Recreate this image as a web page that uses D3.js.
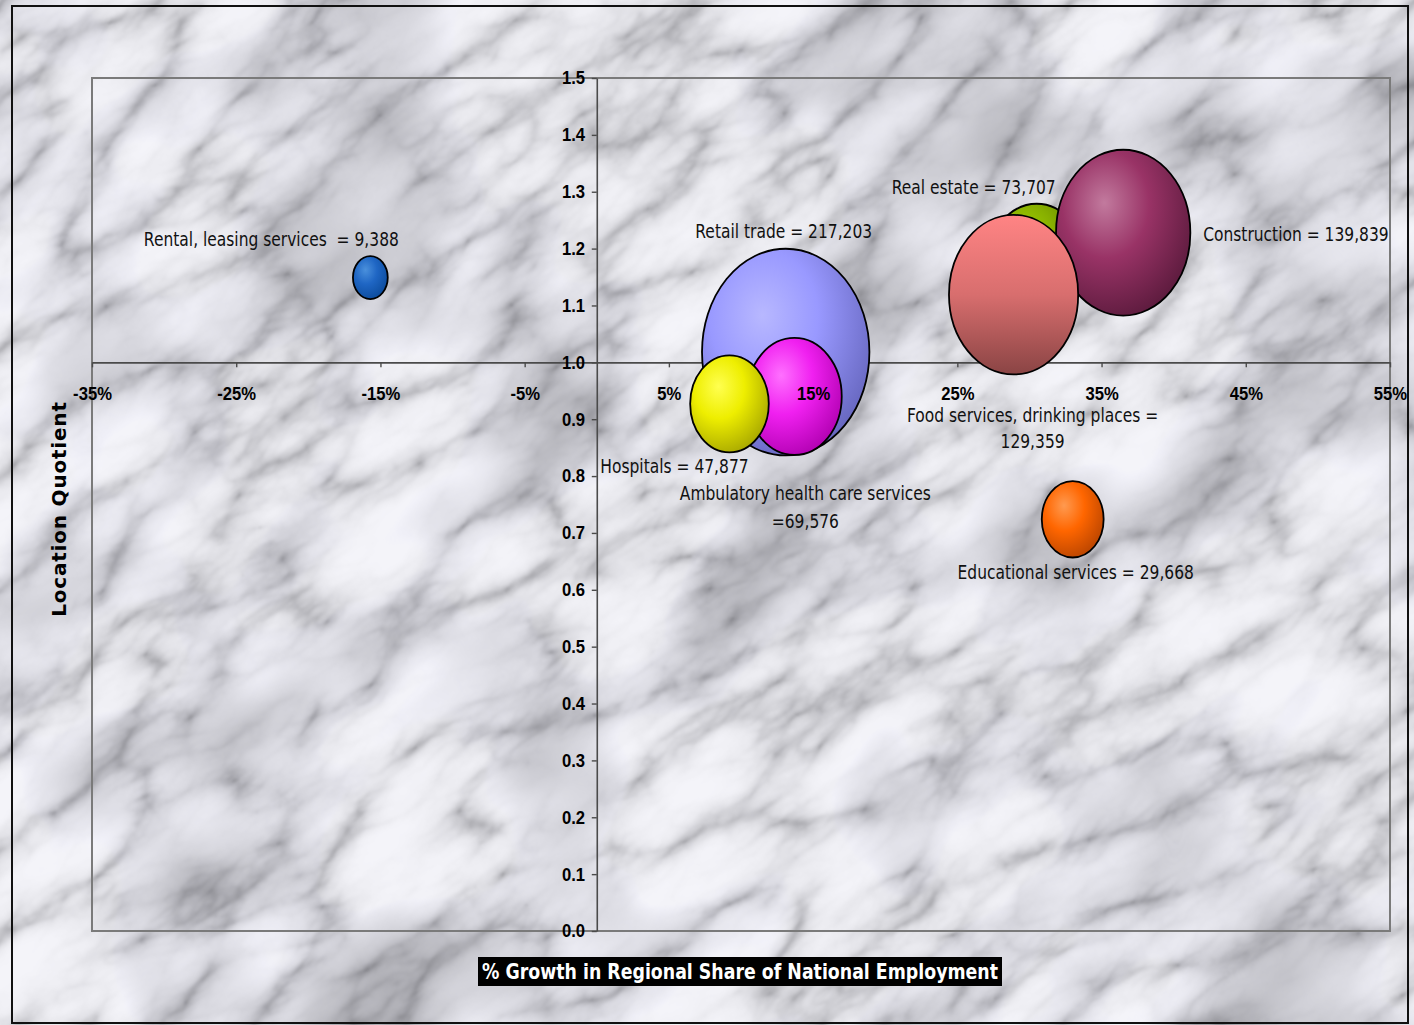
<!DOCTYPE html>
<html>
<head>
<meta charset="utf-8">
<script src="https://cdn.jsdelivr.net/npm/d3@7/dist/d3.min.js"></script>
<style>
  html, body { margin: 0; padding: 0; background: #e2e2e6; }
  svg { display: block; }
</style>
</head>
<body>
<svg id="chart" width="1414" height="1025"></svg>
<script>
// ---- data ----
const industries = [
  "Rental, leasing services",
  "Retail trade",
  "Real estate",
  "Construction",
  "Food services, drinking places",
  "Ambulatory health care services",
  "Hospitals",
  "Educational services"
];
// % growth in regional share of national employment
const growth = [-15.7, 13.1, 30.5, 36.5, 28.9, 13.7, 9.2, 33.0];
// location quotient
const locationQuotient = [1.149, 1.018, 1.173, 1.228, 1.119, 0.940, 0.927, 0.724];
// employment (bubble size)
const employment = [9388, 217203, 73707, 139839, 129359, 69576, 47877, 29668];
// label text templates, {v} is the formatted employment
const labelTemplates = [
  ["Rental, leasing services  = {v}"],
  ["Retail trade = {v}"],
  ["Real estate = {v}"],
  ["Construction = {v}"],
  ["Food services, drinking places =", "{v}"],
  ["Ambulatory health care services", "={v}"],
  ["Hospitals = {v}"],
  ["Educational services = {v}"]
];
const xTicks = [-35, -25, -15, -5, 5, 15, 25, 35, 45, 55];
const yTicks = [0, 0.1, 0.2, 0.3, 0.4, 0.5, 0.6, 0.7, 0.8, 0.9, 1.0, 1.1, 1.2, 1.3, 1.4, 1.5];

// ---- styling ----
const fills = [
  {type: "radial", stops: ["#4a90dc", "#1f66c4", "#0b4a9a"]},
  {type: "radial", stops: ["#b8b8ff", "#9999ff", "#6565bd"]},
  {type: "radial", stops: ["#a8d600", "#88b000", "#587400"]},
  {type: "radial", stops: ["#c27a9e", "#993366", "#5a1a3c"]},
  {type: "linear", stops: ["#ff8484", "#d86e6e", "#8a4444"]},
  {type: "radial", stops: ["#ff70ff", "#f020f0", "#b000b0"]},
  {type: "radial", stops: ["#ffff50", "#eeee00", "#a6a600"]},
  {type: "radial", stops: ["#ff9a50", "#ff6600", "#b84400"]}
];
// label placement relative to each bubble centre (pixels)
const labelLayout = [
  {dx: -99, dy: -32, anchor: "middle"},
  {dx: -2, dy: -114, anchor: "middle"},
  {dx: -63, dy: -70, anchor: "middle"},
  {dx: 80, dy: 8, anchor: "start"},
  {dx: 19, dy: 127, anchor: "middle", lh: 26},
  {dx: 11, dy: 104, anchor: "middle", lh: 28},
  {dx: -55, dy: 69, anchor: "middle"},
  {dx: 3, dy: 60, anchor: "middle"}
];
// stacking order of the bubbles (first drawn at the back)
const drawOrder = [0, 1, 2, 3, 4, 5, 6, 7];

const W = 1414, H = 1025;
const plot = {left: 92, right: 1390, top: 78, bottom: 931};
const squeeze = 0.775;  // horizontal text compression
const aspect = 1.235;   // bubble vertical/horizontal ratio

const svg = d3.select("#chart");
const defs = svg.append("defs");

// marble texture: soft clouds plus thin diagonal veins
const f = defs.append("filter").attr("id", "marble")
  .attr("filterUnits", "userSpaceOnUse")
  .attr("x", -1000).attr("y", -1000).attr("width", 3500).attr("height", 3500)
  .attr("color-interpolation-filters", "sRGB");
f.append("feTurbulence").attr("type", "turbulence")
  .attr("baseFrequency", "0.006 0.013").attr("numOctaves", 5).attr("seed", 11)
  .attr("result", "veins");
f.append("feTurbulence").attr("type", "fractalNoise")
  .attr("baseFrequency", "0.004 0.006").attr("numOctaves", 3).attr("seed", 4)
  .attr("result", "clouds");
f.append("feColorMatrix").attr("in", "veins").attr("type", "matrix")
  .attr("values", [
    1, 0, 0, 0, 0,
    1, 0, 0, 0, 0,
    1, 0, 0, 0, 0,
    0, 0, 0, 0, 1].join(" "))
  .attr("result", "vg");
f.append("feComponentTransfer").attr("in", "vg").attr("result", "vt")
  .call(ct => {
    const tv = "0.64 0.78 0.87 0.915 0.94 0.955 0.96 0.96 0.96";
    const tvb = "0.66 0.8 0.89 0.935 0.96 0.975 0.98 0.98 0.98";
    ct.append("feFuncR").attr("type", "table").attr("tableValues", tv);
    ct.append("feFuncG").attr("type", "table").attr("tableValues", tv);
    ct.append("feFuncB").attr("type", "table").attr("tableValues", tvb);
  });
f.append("feColorMatrix").attr("in", "clouds").attr("type", "matrix")
  .attr("values", [
    0.6, 0, 0, 0, 0.69,
    0.6, 0, 0, 0, 0.69,
    0.6, 0, 0, 0, 0.7,
    0, 0, 0, 0, 1].join(" "))
  .attr("result", "cg");
f.append("feBlend").attr("in", "vt").attr("in2", "cg").attr("mode", "multiply").attr("result", "mix");
f.append("feGaussianBlur").attr("in", "mix").attr("stdDeviation", 0.9);

const bg = svg.append("g");
bg.append("rect").attr("width", W).attr("height", H).attr("fill", "#e2e2e6");
bg.append("g").attr("transform", `rotate(-35 ${W / 2} ${H / 2})`)
  .append("rect")
  .attr("x", -600).attr("y", -600).attr("width", W + 1200).attr("height", H + 1200)
  .attr("fill", "#fff").attr("filter", "url(#marble)");

// outer chart frame
svg.append("rect").attr("x", 12).attr("y", 6).attr("width", 1396).attr("height", 1017)
  .attr("fill", "none").attr("stroke", "#111").attr("stroke-width", 2);
// plot area frame
svg.append("rect").attr("x", plot.left).attr("y", plot.top)
  .attr("width", plot.right - plot.left).attr("height", plot.bottom - plot.top)
  .attr("fill", "none").attr("stroke", "#7a7a7a").attr("stroke-width", 2);

// ---- scales ----
const x = d3.scaleLinear().domain([-35, 55]).range([plot.left, plot.right]);
const y = d3.scaleLinear().domain([0, 1.5]).range([plot.bottom, plot.top]);
const r = d3.scaleSqrt().domain([0, d3.max(employment)]).range([0, 83.7]);

// gradients
fills.forEach((fl, i) => {
  let g;
  if (fl.type === "radial") {
    g = defs.append("radialGradient").attr("id", "g" + i)
      .attr("cx", 0.38).attr("cy", 0.34).attr("r", 0.72)
      .attr("fx", 0.36).attr("fy", 0.32);
    g.append("stop").attr("offset", 0).attr("stop-color", fl.stops[0]);
    g.append("stop").attr("offset", 0.45).attr("stop-color", fl.stops[1]);
    g.append("stop").attr("offset", 1).attr("stop-color", fl.stops[2]);
  } else {
    g = defs.append("linearGradient").attr("id", "g" + i)
      .attr("x1", 0).attr("y1", 0).attr("x2", 0).attr("y2", 1);
    g.append("stop").attr("offset", 0).attr("stop-color", fl.stops[0]);
    g.append("stop").attr("offset", 0.5).attr("stop-color", fl.stops[1]);
    g.append("stop").attr("offset", 1).attr("stop-color", fl.stops[2]);
  }
});

// ---- axes (lines and ticks, behind bubbles) ----
const xAxis = d3.axisBottom(x).tickValues(xTicks).tickSize(5).tickSizeOuter(0)
  .tickPadding(20).tickFormat(d => d + "%");
const yAxis = d3.axisLeft(y).tickValues(yTicks).tickSize(5).tickSizeOuter(0)
  .tickPadding(8).tickFormat(d3.format(".1f"));

function styleAxisLines(g) {
  g.selectAll("path.domain").attr("stroke", "#4a4a4a").attr("stroke-width", 1.6);
  g.selectAll(".tick line").attr("stroke", "#4a4a4a").attr("stroke-width", 1.4);
}
const xLines = svg.append("g").attr("transform", `translate(0,${y(1.0)})`).call(xAxis);
xLines.selectAll("text").remove(); styleAxisLines(xLines);
const yLines = svg.append("g").attr("transform", `translate(${x(0)},0)`).call(yAxis);
yLines.selectAll("text").remove(); styleAxisLines(yLines);

// ---- bubbles ----
const bubbles = svg.append("g");
drawOrder.forEach(i => {
  const rx = r(employment[i]);
  bubbles.append("ellipse")
    .attr("cx", x(growth[i])).attr("cy", y(locationQuotient[i]))
    .attr("rx", rx).attr("ry", rx * aspect)
    .attr("fill", `url(#g${i})`)
    .attr("stroke", "#000").attr("stroke-width", 1.8);
});

// ---- tick labels (on top of bubbles) ----
function styleAxisText(g, fs) {
  g.selectAll("path.domain").remove();
  g.selectAll(".tick line").remove();
  g.selectAll("text")
    .attr("font-family", "'Liberation Sans', Arial, sans-serif")
    .attr("font-weight", "bold").attr("font-size", fs).attr("fill", "#000")
    .attr("transform", "scale(0.9,1)");
}
const xText = svg.append("g").attr("transform", `translate(0,${y(1.0)})`).call(xAxis);
styleAxisText(xText, 18.5);
const yText = svg.append("g").attr("transform", `translate(${x(0)},0)`).call(yAxis);
styleAxisText(yText, 18.5);

// ---- data labels ----
const fmt = d3.format(",");
const labels = svg.append("g")
  .attr("font-family", "'DejaVu Sans', Verdana, sans-serif")
  .attr("font-size", 20).attr("fill", "#111");
industries.forEach((name, i) => {
  const L = labelLayout[i];
  const cx = x(growth[i]) + L.dx, cy = y(locationQuotient[i]) + L.dy;
  labelTemplates[i].forEach((line, k) => {
    labels.append("text")
      .attr("transform", `translate(${cx},${cy + k * (L.lh || 0)}) scale(${squeeze},1)`)
      .attr("text-anchor", L.anchor)
      .attr("xml:space", "preserve")
      .style("white-space", "pre")
      .text(line.replace("{v}", fmt(employment[i])));
  });
});

// ---- axis titles ----
const xTitle = svg.append("g");
xTitle.append("rect").attr("x", 478).attr("y", 957).attr("width", 524).attr("height", 29)
  .attr("fill", "#000");
xTitle.append("text")
  .attr("x", 740).attr("y", 979).attr("text-anchor", "middle")
  .attr("font-family", "'DejaVu Sans', Verdana, sans-serif")
  .attr("font-weight", "bold").attr("font-size", 22).attr("fill", "#fff")
  .attr("textLength", 516).attr("lengthAdjust", "spacingAndGlyphs")
  .text("% Growth in Regional Share of National Employment");

svg.append("text")
  .attr("transform", "translate(66,509) rotate(-90)")
  .attr("text-anchor", "middle")
  .attr("font-family", "'DejaVu Sans', Verdana, sans-serif")
  .attr("font-weight", "bold").attr("font-size", 20).attr("fill", "#000")
  .attr("letter-spacing", 0.8)
  .text("Location Quotient");
</script>
</body>
</html>
